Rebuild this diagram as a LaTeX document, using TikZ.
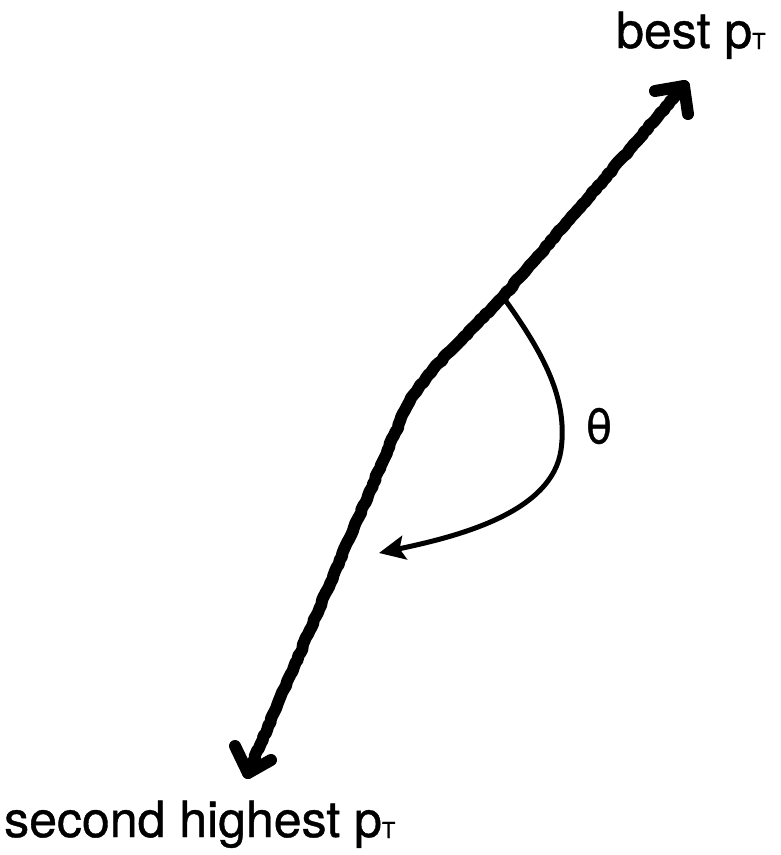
\documentclass[tikz,border=0pt]{standalone}
\usepackage{fontspec}
\setmainfont{TeX Gyre Heros}[FakeBold=0.8]
\usetikzlibrary{arrows.meta,decorations.pathmorphing}
\begin{document}
\begin{tikzpicture}[x=1pt,y=-1pt,
  lbl/.style={inner sep=0pt,font=\fontsize{50}{58}\selectfont},
  sketch/.style={line width=12pt,line cap=round,line join=round,
    decorate,decoration={random steps,segment length=4pt,amplitude=0.8pt}},
  sketchhead/.style={line width=12pt,line cap=round,line join=round},
  anglearc/.style={line width=5pt,-{Stealth[length=26pt,width=24pt,inset=5pt]}}]
\useasboundingbox (0,0) rectangle (780,855);
\newcommand{\pT}{p\raisebox{-1pt}{\fontsize{22}{22}\selectfont T}}
% labels
\node[lbl,anchor=base west] (best) at (616,48) {best \pT};
\node[lbl,anchor=base west] (second) at (4,837) {second highest \pT};
\node[inner sep=0pt,font=\fontsize{48}{54}\selectfont] (theta) at (599,426) {θ};
% coordinates
\coordinate (top) at (684,86);
\coordinate (vtx) at (503,297);
\coordinate (kink) at (405,410);
\coordinate (bot) at (248,773);
\coordinate (arcend) at (379,553);
% thick sketched line
\draw[sketch] (top) -- (vtx) .. controls (460,342) and (425,372) .. (kink) -- (bot);
% arrow heads
\draw[sketchhead] (655,91) -- (top) -- (688,114);
\draw[sketchhead] (235,746) -- (bot) -- (271,760);
% angle arc
\draw[anglearc] (vtx) .. controls (545,355) and (568,400) .. (561,450)
  .. controls (552,512) and (460,536) .. (arcend);
\end{tikzpicture}
\end{document}
